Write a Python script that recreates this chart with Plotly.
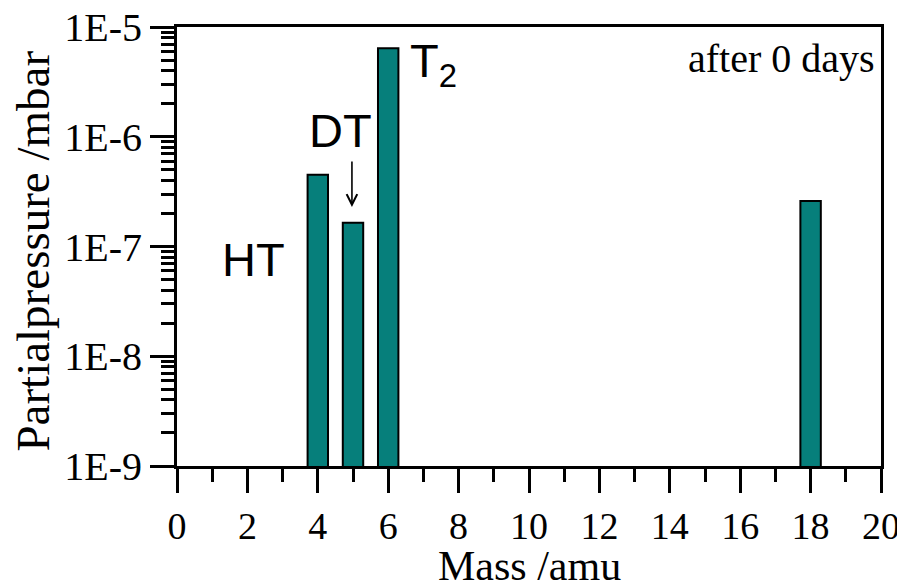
import plotly.graph_objects as go

# Data
masses = [4, 5, 6, 18]
pressures = [4.5e-7, 1.65e-7, 6.4e-6, 2.6e-7]
y_tickvals = [1e-9, 1e-8, 1e-7, 1e-6, 1e-5]
y_ticktext = ["1E-9", "1E-8", "1E-7", "1E-6", "1E-5"]
x_tickvals = [0, 2, 4, 6, 8, 10, 12, 14, 16, 18, 20]

serif = "Liberation Serif, Times New Roman, serif"
sans = "Liberation Sans, Arial, sans-serif"

fig = go.Figure()
fig.add_trace(go.Bar(
    x=masses, y=pressures, width=0.58,
    marker=dict(color="#067f7b", line=dict(color="black", width=2)),
    showlegend=False,
))

fig.update_layout(
    width=897, height=575,
    margin=dict(l=169, r=24, t=19, b=117),
    paper_bgcolor="white", plot_bgcolor="white",
    font=dict(family=serif, color="black"),
)

fig.update_xaxes(
    range=[0, 20], tickvals=x_tickvals, automargin=False, ticklabeloverflow="allow",
    ticks="outside", ticklen=24, tickwidth=3, tickcolor="black",
    minor=dict(ticks="outside", ticklen=13, tickwidth=3, tickcolor="black", dtick=1, showgrid=False),
    showline=True, linewidth=3, linecolor="black", mirror=True,
    showgrid=False, zeroline=False,
    tickfont=dict(family=serif, size=38),
)
fig.update_yaxes(
    type="log", range=[-9, -5], automargin=False, ticklabeloverflow="allow",
    tickvals=y_tickvals, ticktext=y_ticktext,
    ticks="outside", ticklen=24, tickwidth=3, tickcolor="black",
    minor=dict(ticks="outside", ticklen=13, tickwidth=3, tickcolor="black", dtick="D1", showgrid=False),
    showline=True, linewidth=3, linecolor="black", mirror=True,
    showgrid=False, zeroline=False,
    tickfont=dict(family=serif, size=40),
)

# axis titles
fig.add_annotation(x=0.501, y=0, xref="paper", yref="paper", text="Mass /amu",
                   showarrow=False, xanchor="center", yanchor="top", yshift=-75,
                   font=dict(family=serif, size=42, color="black"))
fig.add_annotation(x=-0.205, y=0.49, xref="paper", yref="paper", text="Partialpressure /mbar",
                   showarrow=False, xanchor="center", yanchor="middle", textangle=-90,
                   font=dict(family=serif, size=47, color="black"))

fig.add_annotation(x=2.16, y=-7.12, xref="x", yref="y", text="HT", showarrow=False,
                   font=dict(family=sans, size=47, color="black"))
fig.add_annotation(x=4.65, y=-5.94, xref="x", yref="y", text="DT", showarrow=False,
                   font=dict(family=sans, size=47, color="black"))
fig.add_annotation(x=6.55, y=-5.05, xref="x", yref="y", text="T<sub>2</sub>", showarrow=False,
                   xanchor="left", yanchor="top",
                   font=dict(family=sans, size=47, color="black"))
fig.add_annotation(x=4.97, y=-6.64, xref="x", yref="y", text="", showarrow=True,
                   ax=0, ay=-47, arrowhead=5, arrowsize=1.3, arrowwidth=1.6, arrowcolor="black")
fig.add_annotation(x=0.995, y=0.985, xref="paper", yref="paper", text="after 0 days",
                   showarrow=False, xanchor="right", yanchor="top",
                   font=dict(family=serif, size=40, color="black"))

fig.write_html("out.html")
